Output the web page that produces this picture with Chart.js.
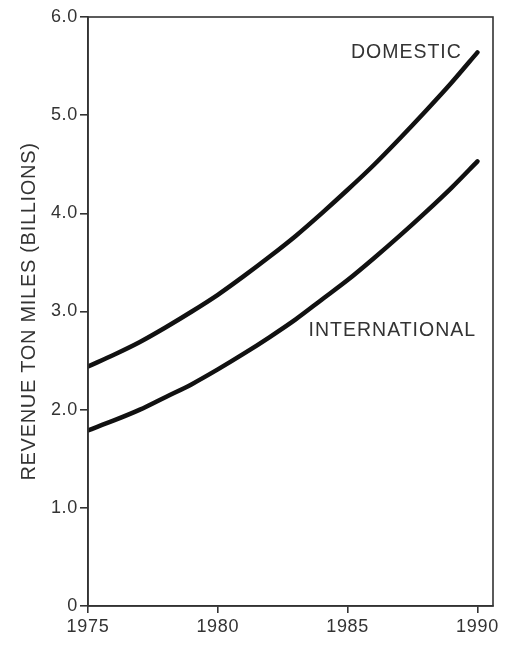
<!DOCTYPE html>
<html>
<head>
<meta charset="utf-8">
<script src="https://cdn.jsdelivr.net/npm/chart.js@4.4.1/dist/chart.umd.min.js"></script>
<style>
  html, body { margin: 0; padding: 0; background: #fff; }
  #wrap { width: 508px; height: 645px; }
</style>
</head>
<body>
<div id="wrap"><canvas id="tonChart" width="508" height="645"></canvas></div>
<script>
// 年ごとの値
const years = [1975, 1976, 1977, 1978, 1979, 1980, 1981, 1982, 1983, 1984, 1985, 1986, 1987, 1988, 1989, 1990];
const domestic = [2.44, 2.56, 2.69, 2.84, 3.00, 3.17, 3.36, 3.56, 3.77, 4.00, 4.24, 4.49, 4.76, 5.04, 5.33, 5.64];
const international = [1.79, 1.89, 2.00, 2.13, 2.26, 2.41, 2.57, 2.74, 2.92, 3.12, 3.32, 3.54, 3.77, 4.01, 4.26, 4.53];
const xTicks = [1975, 1980, 1985, 1990];
const yTicks = [0, 1, 2, 3, 4, 5, 6];

// ラベル（データ座標）
const seriesLabels = [
  { text: 'DOMESTIC', x: 1989.4, y: 5.64 },
  { text: 'INTERNATIONAL', x: 1989.95, y: 2.81 }
];

const ink = '#333';
const lineInk = '#111';
const fontFamily = '"Liberation Sans", Arial, sans-serif';

// 文字間隔を少し広げる（スキャン元の書体に合わせる）
const spacing = {
  id: 'spacing',
  beforeDraw(chart) { chart.ctx.letterSpacing = '0.7px'; }
};

// 枠線とラベルを描くプラグイン
const frameAndLabels = {
  id: 'frameAndLabels',
  afterDatasetsDraw(chart) {
    const { ctx, chartArea, scales } = chart;
    ctx.save();
    ctx.strokeStyle = ink;
    ctx.lineWidth = 1.6;
    ctx.strokeRect(chartArea.left, chartArea.top, chartArea.right - chartArea.left, chartArea.bottom - chartArea.top);
    ctx.fillStyle = ink;
    ctx.font = '19.5px ' + fontFamily;
    ctx.letterSpacing = '1px';
    ctx.textAlign = 'right';
    ctx.textBaseline = 'middle';
    seriesLabels.forEach(l => {
      ctx.fillText(l.text, scales.x.getPixelForValue(l.x), scales.y.getPixelForValue(l.y));
    });
    ctx.restore();
  }
};

const ctx = document.getElementById('tonChart').getContext('2d');
new Chart(ctx, {
  type: 'line',
  data: {
    datasets: [
      {
        label: 'DOMESTIC',
        data: years.map((y, i) => ({ x: y, y: domestic[i] })),
        borderColor: lineInk,
        borderWidth: 4.5,
        borderCapStyle: 'round',
        pointRadius: 0,
        cubicInterpolationMode: 'monotone',
        fill: false
      },
      {
        label: 'INTERNATIONAL',
        data: years.map((y, i) => ({ x: y, y: international[i] })),
        borderColor: lineInk,
        borderWidth: 4.5,
        borderCapStyle: 'round',
        pointRadius: 0,
        cubicInterpolationMode: 'monotone',
        fill: false
      }
    ]
  },
  options: {
    responsive: false,
    animation: false,
    layout: { padding: { top: 17, right: 15, left: 5, bottom: 0 } },
    plugins: { legend: { display: false }, tooltip: { enabled: false } },
    scales: {
      x: {
        type: 'linear',
        min: 1975,
        max: 1990.6,
        afterBuildTicks: s => { s.ticks = xTicks.map(v => ({ value: v })); },
        afterFit: s => { s.height = 39; },
        ticks: {
          color: ink,
          font: { family: fontFamily, size: 18 },
          padding: 3,
          maxRotation: 0,
          callback: v => String(v)
        },
        grid: { drawOnChartArea: false, drawTicks: true, tickLength: 7, color: ink, lineWidth: 1.6 },
        border: { display: true, color: ink, width: 1.6 }
      },
      y: {
        min: 0,
        max: 6,
        afterBuildTicks: s => { s.ticks = yTicks.map(v => ({ value: v })); },
        afterFit: s => { s.width = 83; },
        ticks: {
          color: ink,
          font: { family: fontFamily, size: 18 },
          padding: 2,
          callback: v => v === 0 ? '0' : v.toFixed(1)
        },
        grid: { drawOnChartArea: false, drawTicks: true, tickLength: 8, color: ink, lineWidth: 1.6 },
        border: { display: true, color: ink, width: 1.6 },
        title: {
          display: true,
          text: 'REVENUE TON MILES (BILLIONS)',
          color: ink,
          font: { family: fontFamily, size: 20 },
          padding: { top: 12, bottom: 0 }
        }
      }
    }
  },
  plugins: [spacing, frameAndLabels]
});
</script>
</body>
</html>
